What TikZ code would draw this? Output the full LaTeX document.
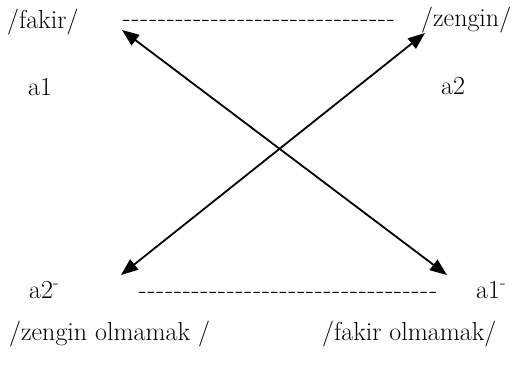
\documentclass[tikz,border=0pt]{standalone}
\usetikzlibrary{arrows.meta}
\newcommand{\hyrow}[1]{\hbox{\xleaders\hbox to 8.8pt{\hss-\hss}\hskip #1\relax}}
\begin{document}
\begin{tikzpicture}[x=1pt,y=-1pt,
  lbl/.style={inner sep=0pt,anchor=base west,font=\fontsize{26}{30}\selectfont},
  dbl/.style={line width=1.8pt,{Triangle[length=17pt,width=13pt]}-{Triangle[length=17pt,width=13pt]}}]
\useasboundingbox (0,0) rectangle (521,376);
\node[lbl] (fakir) at (7,28) {/fakir/};
\node[lbl] (zengin) at (421,26) {/zengin/};
\node[lbl] (topdash) at (122.2,26) {\hyrow{272.8pt}};
\node[lbl] (a1) at (28,95) {a1};
\node[lbl] (a2) at (441,94) {a2};
\node[lbl] (a2m) at (29,298) {a2\textsuperscript{-}};
\node[lbl] (a1m) at (476,298) {a1\textsuperscript{-}};
\node[lbl] (botdash) at (138.2,298) {\hyrow{299.2pt}};
\node[lbl] (zo) at (9,340) {/zengin olmamak /};
\node[lbl] (fo) at (322,340) {/fakir olmamak/};
\coordinate (p1) at (122,30);
\coordinate (p2) at (447,275);
\coordinate (p3) at (121,275);
\coordinate (p4) at (425,33);
\draw[dbl] (p1) -- (p2);
\draw[dbl] (p3) -- (p4);
\end{tikzpicture}
\end{document}
